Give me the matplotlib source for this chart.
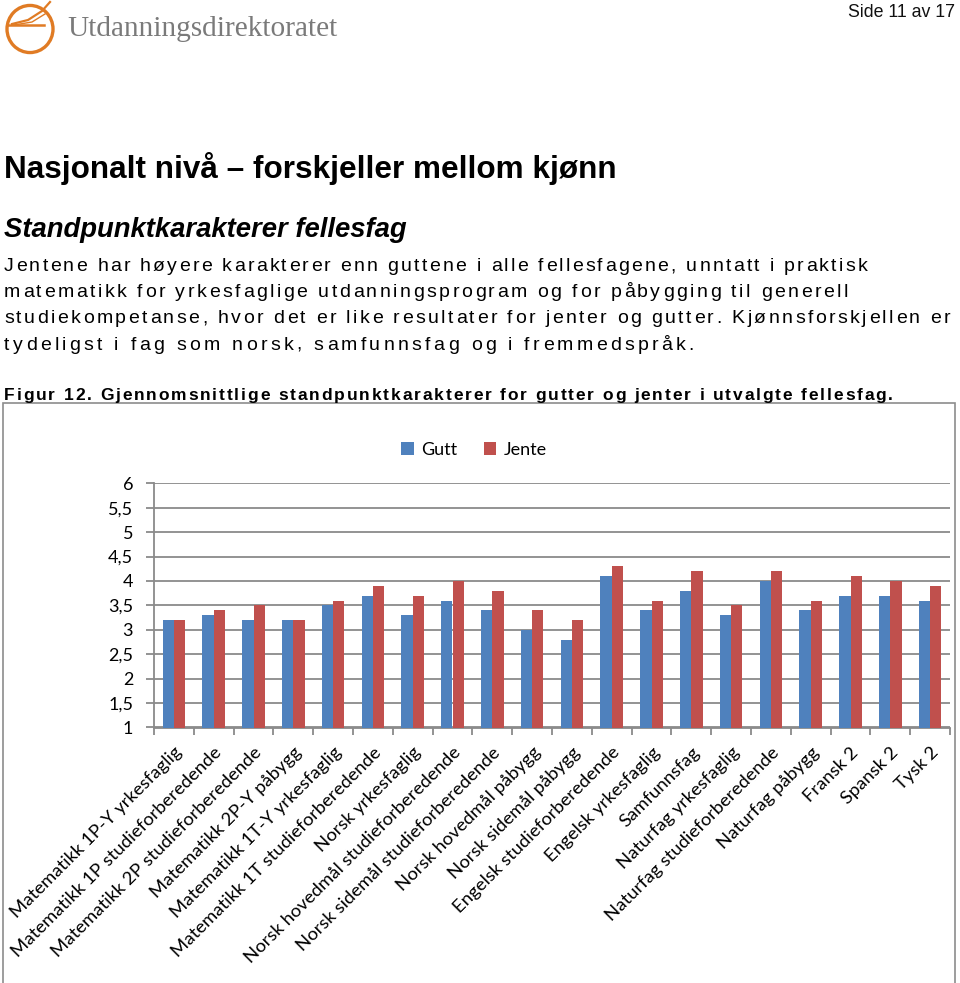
import matplotlib
matplotlib.use("Agg")
import matplotlib.pyplot as plt
import numpy as np
from matplotlib.patches import Rectangle, Circle
from matplotlib.lines import Line2D
from matplotlib import font_manager, ft2font
from matplotlib.font_manager import FontProperties

categories = [
    "Matematikk 1P-Y yrkesfaglig",
    "Matematikk 1P studieforberedende",
    "Matematikk 2P studieforberedende",
    "Matematikk 2P-Y påbygg",
    "Matematikk 1T-Y yrkesfaglig",
    "Matematikk 1T studieforberedende",
    "Norsk yrkesfaglig",
    "Norsk hovedmål studieforberedende",
    "Norsk sidemål studieforberedende",
    "Norsk hovedmål påbygg",
    "Norsk sidemål påbygg",
    "Engelsk studieforberedende",
    "Engelsk yrkesfaglig",
    "Samfunnsfag",
    "Naturfag yrkesfaglig",
    "Naturfag studieforberedende",
    "Naturfag påbygg",
    "Fransk 2",
    "Spansk 2",
    "Tysk 2",
]
gutt = [3.2, 3.3, 3.2, 3.2, 3.5, 3.7, 3.3, 3.6, 3.4, 3.0, 2.8, 4.1, 3.4, 3.8, 3.3, 4.0, 3.4, 3.7, 3.7, 3.6]
jente = [3.2, 3.4, 3.5, 3.2, 3.6, 3.9, 3.7, 4.0, 3.8, 3.4, 3.2, 4.3, 3.6, 4.2, 3.5, 4.2, 3.6, 4.1, 4.0, 3.9]
yticks = [1, 1.5, 2, 2.5, 3, 3.5, 4, 4.5, 5, 5.5, 6]
ytick_labels = ["1", "1,5", "2", "2,5", "3", "3,5", "4", "4,5", "5", "5,5", "6"]
series_names = ["Gutt", "Jente"]

body = [
    "Jentene har høyere karakterer enn guttene i alle fellesfagene, unntatt i praktisk",
    "matematikk for yrkesfaglige utdanningsprogram og for påbygging til generell",
    "studiekompetanse, hvor det er like resultater for jenter og gutter. Kjønnsforskjellen er",
    "tydeligst i fag som norsk, samfunnsfag og i fremmedspråk.",
]
caption = "Figur 12. Gjennomsnittlige standpunktkarakterer for gutter og jenter i utvalgte fellesfag."

W, H = 960, 983
DPI = 100
fig = plt.figure(figsize=(W / DPI, H / DPI), dpi=DPI)

def fx(x):
    return x / W

def fy(y):
    return 1 - y / H

try:
    NOHINT = ft2font.LoadFlags.NO_HINTING
except AttributeError:
    NOHINT = ft2font.LOAD_NO_HINTING

def tracked_text(x0, ybase, s, size, right, weight="normal", style="normal",
                 family="Liberation Sans", color="black"):
    """Draw s starting at x0 (px) with letter spacing so that it ends at `right` (px)."""
    fp = FontProperties(family=family, weight=weight, style=style, size=size)
    font = ft2font.FT2Font(font_manager.findfont(fp))
    font.set_size(size, DPI)
    adv = []
    for ch in s:
        g = font.load_char(ord(ch), flags=NOHINT)
        adv.append(g.linearHoriAdvance / 65536)
    natural = sum(adv)
    track = (right - x0 - natural) / max(len(s) - 1, 1)
    pos = x0
    for ch, a in zip(s, adv):
        if ch != " ":
            fig.text(fx(pos), fy(ybase), ch, ha="left", va="baseline", fontproperties=fp, color=color)
        pos += a + track

# ---- header ----
fig.text(fx(955), fy(17), "Side 11 av 17", ha="right", va="baseline",
         fontsize=12.8, family="Liberation Sans", color="#111111")
orange = "#E07B24"
fig.patches.append(Circle((fx(30), fy(29)), 23 / W, transform=fig.transFigure,
                          fill=False, ec=orange, lw=2.4))
fig.lines.append(Line2D([fx(8), fx(44)], [fy(25), fy(25)], transform=fig.transFigure, color=orange, lw=1.8))
fig.lines.append(Line2D([fx(12), fx(28), fx(42), fx(50)], [fy(24), fy(20), fy(11), fy(2)],
                        transform=fig.transFigure, color=orange, lw=1.6))
fig.lines.append(Line2D([fx(14), fx(32), fx(45)], [fy(25), fy(22), fy(14)],
                        transform=fig.transFigure, color=orange, lw=1.0))
fig.text(fx(67), fy(36), "Utdanningsdirektoratet", ha="left", va="baseline",
         fontsize=21.2, family="Liberation Serif", color="#7a7a7a")

# ---- title and body ----
fig.text(fx(4), fy(178), "Nasjonalt nivå – forskjeller mellom kjønn", ha="left", va="baseline",
         fontsize=22.7, fontweight="bold", family="Liberation Sans", color="black")
fig.text(fx(4), fy(237), "Standpunktkarakterer fellesfag", ha="left", va="baseline",
         fontsize=19.8, fontweight="bold", fontstyle="italic", family="Liberation Sans", color="black")
body_right = [867, 848, 950, 694]
for i, line in enumerate(body):
    tracked_text(4, 271 + 26.2 * i, line, 14, body_right[i])
tracked_text(4, 400, caption, 12.5, 893, weight="bold")

# chart frame
fig.patches.append(Rectangle((fx(3), fy(990)), fx(955) - fx(3), fy(403) - fy(990),
                             transform=fig.transFigure, fill=False, ec="#8c8c8c", lw=1.2))

# ---- chart ----
ax = fig.add_axes([fx(154), fy(727.5), fx(950) - fx(154), fy(483.3) - fy(727.5)])
n = len(categories)
x = np.arange(n)
w = 1 / 3.5
blue = "#4F81BD"
red = "#C0504D"
ax.bar(x - w / 2, np.array(gutt) - 1, bottom=1, width=w, color=blue, label=series_names[0], zorder=3)
ax.bar(x + w / 2, np.array(jente) - 1, bottom=1, width=w, color=red, label=series_names[1], zorder=3)
ax.set_xlim(-0.5, n - 0.5)
ax.set_ylim(1, 6)
ax.set_yticks(yticks)
ax.set_yticklabels(ytick_labels, family="Lato", fontsize=13)
ax.yaxis.grid(True, color="#8a8a8a", lw=1.3, zorder=0)
ax.set_axisbelow(True)
for s in ["top", "right"]:
    ax.spines[s].set_visible(False)
for s in ["left", "bottom"]:
    ax.spines[s].set_color("#8a8a8a")
    ax.spines[s].set_linewidth(1.3)
ax.tick_params(axis="y", length=6, width=1.3, color="#8a8a8a", pad=9)
ax.set_xticks(x)
ax.set_xticklabels(categories, rotation=45, ha="right", va="top", rotation_mode="anchor",
                   family="Lato", fontsize=13.3)
ax.tick_params(axis="x", which="major", length=0, pad=12)
ax.set_xticks(np.arange(n + 1) - 0.5, minor=True)
ax.tick_params(axis="x", which="minor", length=5, width=1.3, color="#8a8a8a")

leg = fig.legend(loc="center", bbox_to_anchor=(fx(474), fy(450)), ncol=2, frameon=False,
                 prop={"family": "Lato", "size": 13}, handlelength=0.7, handleheight=0.7,
                 handletextpad=0.4, columnspacing=1.45)

fig.savefig("out.png", dpi=DPI)
